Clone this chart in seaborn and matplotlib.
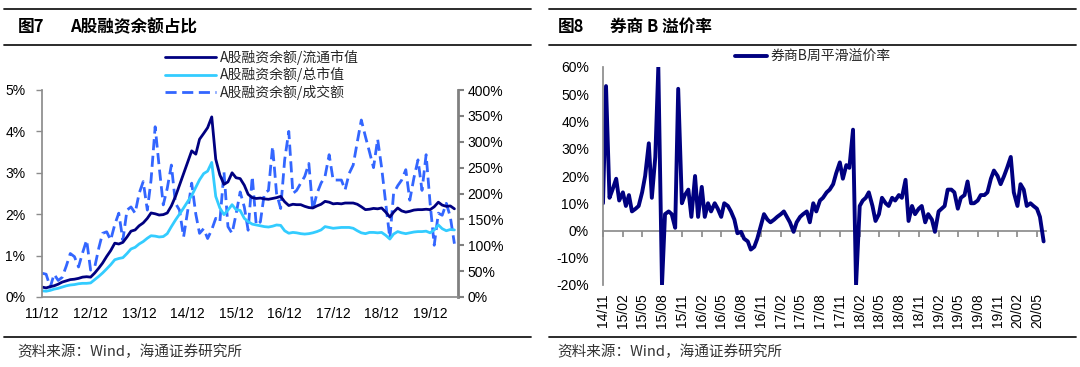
import matplotlib
matplotlib.use("Agg")
import numpy as np
import pandas as pd
import matplotlib.pyplot as plt
import matplotlib.dates as mdates
from matplotlib.lines import Line2D
from matplotlib.ticker import FuncFormatter, MultipleLocator
import seaborn as sns

sns.set_theme(style="white")
plt.rcParams["font.family"] = ["Liberation Sans", "Noto Sans CJK SC", "DejaVu Sans"]
plt.rcParams["axes.unicode_minus"] = False

# ---------------- data: left chart (monthly, 2011-12 .. 2020-06) ----------------
margin_start = "2011-12-01"
ratio_float = [0.24, 0.22, 0.25, 0.27, 0.31, 0.36, 0.39, 0.42, 0.43, 0.45, 0.48, 0.49,
               0.48, 0.58, 0.70, 0.82, 0.98, 1.12, 1.30, 1.28, 1.32, 1.45, 1.59, 1.62,
               1.72, 1.79, 1.90, 2.03, 2.01, 1.98, 1.99, 2.03, 2.20, 2.43, 2.70, 2.98,
               3.25, 3.53, 3.45, 3.81, 3.95, 4.09, 4.35, 3.33, 2.95, 2.72, 2.78, 3.00,
               2.88, 2.86, 2.70, 2.48, 2.40, 2.38, 2.39, 2.37, 2.36, 2.38, 2.40, 2.43,
               2.30, 2.21, 2.24, 2.23, 2.23, 2.19, 2.16, 2.15, 2.20, 2.24, 2.31, 2.29,
               2.25, 2.26, 2.25, 2.27, 2.27, 2.27, 2.24, 2.18, 2.11, 2.12, 2.14, 2.13,
               2.15, 2.05, 1.93, 2.05, 2.15, 2.08, 2.05, 2.07, 2.10, 2.11, 2.11, 2.12,
               2.11, 2.18, 2.29, 2.22, 2.19, 2.20, 2.13]
ratio_total = [0.15, 0.14, 0.16, 0.19, 0.21, 0.24, 0.27, 0.29, 0.30, 0.32, 0.33, 0.33,
               0.34, 0.42, 0.50, 0.58, 0.68, 0.78, 0.90, 0.93, 0.95, 1.05, 1.16, 1.20,
               1.28, 1.34, 1.42, 1.48, 1.47, 1.45, 1.46, 1.53, 1.70, 1.86, 2.00, 2.15,
               2.30, 2.45, 2.65, 2.83, 2.98, 3.04, 3.25, 2.43, 2.15, 1.99, 2.10, 2.23,
               2.11, 2.09, 1.90, 1.82, 1.76, 1.74, 1.72, 1.70, 1.69, 1.71, 1.74, 1.73,
               1.60, 1.54, 1.56, 1.55, 1.53, 1.52, 1.53, 1.55, 1.58, 1.62, 1.70, 1.68,
               1.66, 1.67, 1.68, 1.68, 1.68, 1.66, 1.60, 1.55, 1.53, 1.56, 1.56, 1.55,
               1.56, 1.49, 1.40, 1.52, 1.58, 1.55, 1.53, 1.55, 1.57, 1.58, 1.58, 1.59,
               1.55, 1.62, 1.74, 1.65, 1.60, 1.63, 1.62]
ratio_turnover = [46, 44, 19, 44, 32, 38, 60, 84, 78, 58, 85, 110,
                  52, 58, 95, 123, 126, 110, 140, 162, 110, 168, 174, 162,
                  200, 223, 168, 226, 329, 252, 178, 210, 255, 181, 168, 116,
                  165, 220, 160, 123, 132, 113, 130, 152, 145, 242, 136, 123,
                  160, 203, 174, 129, 233, 139, 145, 200, 206, 291, 200, 171,
                  265, 320, 200, 206, 220, 233, 258, 168, 200, 220, 233, 275,
                  226, 226, 226, 207, 239, 255, 300, 342, 310, 280, 250, 305,
                  250, 181, 113, 200, 215, 226, 246, 187, 230, 265, 206, 275,
                  181, 100, 162, 158, 181, 155, 103]
left_tick_labels = ["11/12", "12/12", "13/12", "14/12", "15/12", "16/12", "17/12", "18/12", "19/12"]
label_float = "A股融资余额/流通市值"
label_total = "A股融资余额/总市值"
label_turnover = "A股融资余额/成交额"

# ---------------- data: right chart (semi-monthly, 2014-11 .. 2020-06) ----------------
premium_start = "2014-11-01"
premium = [10, 53, 12, 15, 19, 11, 14, 9, 13, 7, 8, 9,
           14, 20, 32, 12, 27, 60, -20, 6, 7, 6, 1, 52,
           10, 13, 15, 5, 20, 5, 16, 5, 10, 7, 10, 8,
           5, 10, 9, 7, 4, -1, -0.5, -3, -4, -7, -6, -3,
           2, 6, 4, 3, 4, 5, 6, 7, 5, 3, -0.5, 3,
           5, 6, 7, 3, 10, 7, 11, 12, 14, 15, 17, 21,
           25, 19, 24, 23, 37, -20, 9, 11, 12, 14, 9, 3.5,
           6, 12, 10, 9, 12, 11, 13, 12, 18.6, 3.5, 9, 6,
           8, 9, 3, 6, 4, -0.5, 7, 8, 9, 15, 15, 14,
           8, 12, 13, 18, 10, 10, 11, 13, 13, 14, 19, 22,
           20, 17, 20, 23, 27, 14, 9, 17, 15, 9, 10, 9,
           8, 5, -4]
premium_label = "券商B周平滑溢价率"
right_tick_labels = ["14/11", "15/02", "15/05", "15/08", "15/11", "16/02", "16/05", "16/08",
                     "16/11", "17/02", "17/05", "17/08", "17/11", "18/02", "18/05", "18/08",
                     "18/11", "19/02", "19/05", "19/08", "19/11", "20/02", "20/05"]

title_left = ("图7", "A股融资余额占比")
title_right = ("图8", "券商 B 溢价率")
source_text = "资料来源：Wind，海通证券研究所"

# ---------------- build frames ----------------
df_left = pd.DataFrame({
    "date": pd.date_range(margin_start, periods=len(ratio_float), freq="MS"),
    "float": ratio_float, "total": ratio_total, "turnover": ratio_turnover})
df_right = pd.DataFrame({
    "date": pd.date_range(premium_start, periods=len(premium), freq="SMS"),
    "premium": premium})

W, H = 1080, 367
fig = plt.figure(figsize=(W / 100, H / 100), dpi=100)
fig.patch.set_facecolor("white")

def fx(px):
    return px / W

def fy(py):
    return 1 - py / H

GRAY = "#8c8c8c"
NAVY = "#000080"
CYAN = "#33ccff"
BLUE = "#3366ff"
CJK = ["Noto Sans CJK SC", "Liberation Sans"]

# ---------------- left chart ----------------
l0, r0, t0, b0 = 42, 458, 90, 297
ax = fig.add_axes([fx(l0), fy(b0), fx(r0 - l0), (b0 - t0) / H])
ax2 = ax.twinx()
sns.lineplot(data=df_left, x="date", y="turnover", ax=ax2, color=BLUE, lw=2.0,
             linestyle=(0, (4, 2)), label=label_turnover, legend=False)
sns.lineplot(data=df_left, x="date", y="total", ax=ax, color=CYAN, lw=2.0,
             label=label_total, legend=False)
sns.lineplot(data=df_left, x="date", y="float", ax=ax, color=NAVY, lw=2.0,
             label=label_float, legend=False)
ax.set_zorder(ax2.get_zorder() + 1)
ax.patch.set_visible(False)

ax.set_ylim(0, 5)
ax2.set_ylim(0, 400)
ax.set_xlim(pd.Timestamp("2011-12-01"), pd.Timestamp("2020-06-28"))
ax.yaxis.set_major_locator(MultipleLocator(1))
ax2.yaxis.set_major_locator(MultipleLocator(50))
ax.yaxis.set_major_formatter(FuncFormatter(lambda v, p: f"{v:.0f}%"))
ax2.yaxis.set_major_formatter(FuncFormatter(lambda v, p: f"{v:.0f}%"))
ticks_left = pd.date_range("2011-12-01", periods=len(left_tick_labels), freq="12MS")
ax.set_xticks(ticks_left)
ax.set_xticklabels(left_tick_labels)
ax.set_xlabel("")
ax.set_ylabel("")
ax2.set_ylabel("")
for a in (ax, ax2):
    for s in ("top",):
        a.spines[s].set_visible(False)
ax.spines["right"].set_visible(False)
ax2.spines["left"].set_visible(False)
ax2.spines["bottom"].set_visible(False)
ax.spines["left"].set_color(GRAY)
ax.spines["bottom"].set_color(GRAY)
ax2.spines["right"].set_color("#808080")
ax2.spines["right"].set_linewidth(2.0)
ax.tick_params(axis="both", direction="out", length=4, width=1, color=GRAY,
               labelsize=10, labelcolor="black", pad=3)
ax.tick_params(axis="y", pad=8)
ax2.tick_params(axis="y", direction="out", length=4, width=1.5, color="#808080",
                labelsize=10, labelcolor="black", pad=3)
ax.grid(False)
ax2.grid(False)

h1 = ax.get_lines()
h2 = ax2.get_lines()
handles = [h1[1], h1[0], h2[0]]
fig.legend(handles, [label_float, label_total, label_turnover],
           loc="upper left", bbox_to_anchor=(fx(165), fy(50)), frameon=False,
           prop={"family": CJK, "size": 10}, handlelength=3.7, handletextpad=0.25,
           labelspacing=0.15, borderpad=0, borderaxespad=0)

# ---------------- right chart ----------------
l1, r1, t1, b1 = 603, 1046, 67, 285
bx = fig.add_axes([fx(l1), fy(b1), fx(r1 - l1), (b1 - t1) / H])
sns.lineplot(data=df_right, x="date", y="premium", ax=bx, color=NAVY, lw=2.8,
             label=premium_label, legend=False)
bx.set_ylim(-20, 60)
bx.set_xlim(pd.Timestamp("2014-11-01"), pd.Timestamp("2020-06-12"))
bx.yaxis.set_major_locator(MultipleLocator(10))
bx.yaxis.set_major_formatter(FuncFormatter(lambda v, p: f"{v:.0f}%"))
ticks_right = pd.date_range("2014-11-01", periods=len(right_tick_labels), freq="3MS")
bx.set_xticks(ticks_right)
bx.set_xticklabels(right_tick_labels, rotation=90)
bx.set_xlabel("")
bx.set_ylabel("")
for s in ("top", "right", "bottom"):
    bx.spines[s].set_visible(False)
bx.spines["left"].set_color(GRAY)
bx.tick_params(axis="x", length=0, labelsize=10, labelcolor="black", pad=6)
bx.tick_params(axis="y", direction="out", length=4, color=GRAY, labelsize=10,
               labelcolor="black", pad=6)
bx.grid(False)
sec = bx.secondary_xaxis(0.25)
sec.set_xticks(ticks_right)
sec.set_xticklabels([])
sec.tick_params(axis="x", direction="out", length=4, color=GRAY)
sec.spines["bottom"].set_color(GRAY)
bx.legend(loc="upper left", bbox_to_anchor=(fx(735), fy(50)), bbox_transform=fig.transFigure,
          frameon=False, prop={"family": CJK, "size": 10}, handlelength=2.3,
          handletextpad=0.25, borderpad=0, borderaxespad=0)

# ---------------- frames, titles, sources ----------------
for xa, xb in ((4, 531), (549, 1076)):
    for yy in (9, 45, 337):
        fig.add_artist(Line2D([fx(xa), fx(xb)], [fy(yy), fy(yy)], transform=fig.transFigure,
                              color="#1a1a1a", lw=1.3))

for (num, name), x_num, x_name in ((title_left, 18, 70), (title_right, 558, 610)):
    fig.text(fx(x_num), fy(27), num, fontsize=12, fontweight="bold", family=CJK,
             va="center", ha="left", color="black")
    fig.text(fx(x_name), fy(27), name, fontsize=12, fontweight="bold", family=CJK,
             va="center", ha="left", color="black")

for x_src in (17, 557):
    fig.text(fx(x_src), fy(352), source_text, fontsize=10.5, family=CJK,
             va="center", ha="left", color="#333333")

fig.savefig("out.png", dpi=100, facecolor="white")
